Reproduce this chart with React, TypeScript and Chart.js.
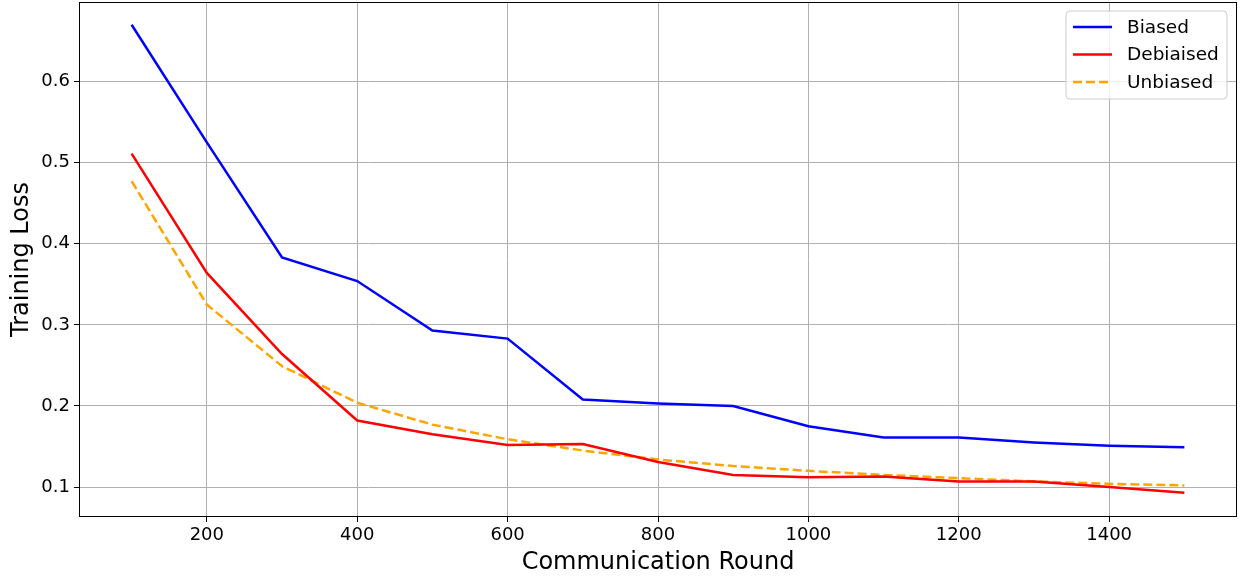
import React, { useEffect, useRef } from "react";
import { Chart, registerables } from "chart.js";

Chart.register(...registerables);

const rounds = [100, 200, 300, 400, 500, 600, 700, 800, 900, 1000, 1100, 1200, 1300, 1400, 1500];
const biased = [0.670, 0.525, 0.383, 0.354, 0.293, 0.283, 0.208, 0.203, 0.200, 0.175, 0.161, 0.161, 0.155, 0.151, 0.149];
const debiased = [0.511, 0.364, 0.264, 0.182, 0.165, 0.152, 0.153, 0.131, 0.115, 0.112, 0.113, 0.107, 0.107, 0.100, 0.093];
const unbiased = [0.477, 0.325, 0.249, 0.204, 0.177, 0.159, 0.145, 0.134, 0.126, 0.120, 0.115, 0.111, 0.107, 0.104, 0.102];
const xTicks = [200, 400, 600, 800, 1000, 1200, 1400];
const yTicks = [0.1, 0.2, 0.3, 0.4, 0.5, 0.6];

const FONT = "'DejaVu Sans', sans-serif";

const framePlugin = {
  id: "frame",
  afterDraw(chart: any) {
    const { ctx, chartArea } = chart;
    ctx.save();
    ctx.strokeStyle = "#000";
    ctx.lineWidth = 1;
    ctx.strokeRect(chartArea.left + 0.5, chartArea.top + 0.5, chartArea.right - chartArea.left - 1, chartArea.bottom - chartArea.top - 1);
    // legend
    const bx = 1066, by = 11, bw = 161, bh = 88;
    ctx.fillStyle = "rgba(255,255,255,0.8)";
    ctx.strokeStyle = "#cccccc";
    ctx.lineWidth = 1;
    const r = 4;
    ctx.beginPath();
    ctx.moveTo(bx + r, by);
    ctx.arcTo(bx + bw, by, bx + bw, by + bh, r);
    ctx.arcTo(bx + bw, by + bh, bx, by + bh, r);
    ctx.arcTo(bx, by + bh, bx, by, r);
    ctx.arcTo(bx, by, bx + bw, by, r);
    ctx.closePath();
    ctx.fill();
    ctx.stroke();
    chart.data.datasets.forEach((ds: any, i: number) => {
      const y = by + 16 + i * 27.5;
      ctx.strokeStyle = ds.borderColor;
      ctx.lineWidth = 2.5;
      ctx.setLineDash(ds.borderDash || []);
      ctx.beginPath();
      ctx.moveTo(bx + 7, y);
      ctx.lineTo(bx + 46, y);
      ctx.stroke();
      ctx.setLineDash([]);
      ctx.fillStyle = "#000";
      ctx.font = `18.5px ${FONT}`;
      ctx.textBaseline = "middle";
      ctx.fillText(ds.label, bx + 61, y + 1);
    });
    ctx.restore();
  },
};

export default function App() {
  const ref = useRef<HTMLCanvasElement>(null);
  useEffect(() => {
    const chart = new Chart(ref.current!, {
      type: "line",
      data: {
        datasets: [
          { label: "Biased", data: rounds.map((x, i) => ({ x, y: biased[i] })), borderColor: "#0000ff", borderWidth: 2.5, pointRadius: 0, tension: 0, fill: false },
          { label: "Debiaised", data: rounds.map((x, i) => ({ x, y: debiased[i] })), borderColor: "#ff0000", borderWidth: 2.5, pointRadius: 0, tension: 0, fill: false },
          { label: "Unbiased", data: rounds.map((x, i) => ({ x, y: unbiased[i] })), borderColor: "#ffa500", borderWidth: 2.5, borderDash: [9, 4], pointRadius: 0, tension: 0, fill: false },
        ],
      },
      options: {
        animation: false,
        responsive: false,
        layout: { padding: { top: 2, right: 6, left: 0, bottom: 0 } },
        plugins: { legend: { display: false }, tooltip: { enabled: false } },
        scales: {
          x: {
            type: "linear",
            min: 30,
            max: 1570,
            afterBuildTicks: (s: any) => { s.ticks = xTicks.map((v) => ({ value: v })); },
            afterFit: (s: any) => { s.height = 60; s.paddingLeft = 0; s.paddingRight = 0; },
            grid: { color: "#b0b0b0", lineWidth: 1, tickColor: "#000", tickLength: 5, drawTicks: true },
            border: { display: false },
            ticks: { color: "#000", font: { family: FONT, size: 18 }, padding: 3, maxRotation: 0, callback: (v: any) => String(v) },
            title: { display: true, text: "Communication Round", color: "#000", font: { family: FONT, size: 24 }, padding: { top: 0, bottom: 0 } },
          },
          y: {
            type: "linear",
            min: 0.0631,
            max: 0.698,
            afterBuildTicks: (s: any) => { s.ticks = yTicks.map((v) => ({ value: v })); },
            afterFit: (s: any) => { s.width = 79; s.paddingTop = 0; s.paddingBottom = 0; },
            grid: { color: "#b0b0b0", lineWidth: 1, tickColor: "#000", tickLength: 5, drawTicks: true },
            border: { display: false },
            ticks: { color: "#000", font: { family: FONT, size: 18 }, padding: 4, callback: (v: any) => Number(v).toFixed(1) },
            title: { display: true, text: "Training Loss", color: "#000", font: { family: FONT, size: 24 }, padding: { top: 7, bottom: 4 } },
          },
        },
      },
      plugins: [framePlugin],
    } as any);
    return () => chart.destroy();
  }, []);
  return (
    <div style={{ position: "absolute", left: 0, top: 0, width: 1243, height: 577, background: "#fff" }}>
      <canvas ref={ref} width={1243} height={577} />
    </div>
  );
}
